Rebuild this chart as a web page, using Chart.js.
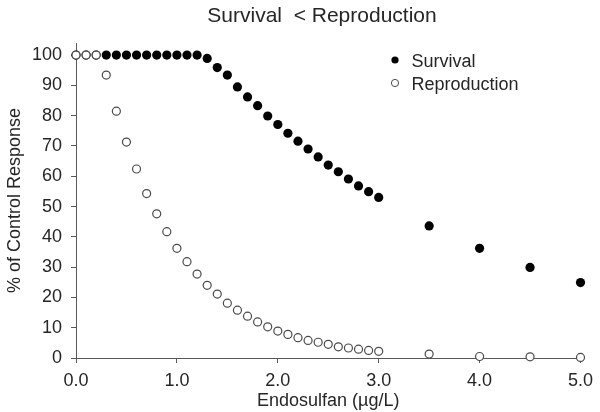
<!DOCTYPE html>
<html>
<head>
<meta charset="utf-8">
<script src="https://cdn.jsdelivr.net/npm/chart.js@4.4.1/dist/chart.umd.min.js"></script>
<style>
  html, body { margin: 0; padding: 0; background: #fff; }
  #wrap { width: 600px; height: 412px; }
</style>
</head>
<body>
<div id="wrap"><canvas id="chartDose"></canvas></div>
<script>
// endosulfan concentration (ug/L)
const concentration = [0.0, 0.1, 0.2, 0.3, 0.4, 0.5, 0.6, 0.7, 0.8, 0.9, 1.0,
  1.1, 1.2, 1.3, 1.4, 1.5, 1.6, 1.7, 1.8, 1.9, 2.0,
  2.1, 2.2, 2.3, 2.4, 2.5, 2.6, 2.7, 2.8, 2.9, 3.0,
  3.5, 4.0, 4.5, 5.0];

// % of control response
const survival = [100, 100, 100, 100, 100, 100, 100, 100, 100, 100, 100,
  100, 100, 98.9, 95.9, 93.4, 89.5, 86.2, 83.3, 79.9, 77.1,
  74.2, 71.6, 69.0, 66.4, 63.7, 61.5, 59.1, 56.8, 54.9, 53.0,
  43.6, 36.2, 29.9, 24.9];

const reproduction = [100, 100, 100, 93.4, 81.5, 71.3, 62.4, 54.3, 47.6, 41.7, 36.2,
  31.8, 27.7, 24.0, 21.1, 18.1, 15.8, 13.8, 11.9, 10.3, 8.9,
  7.8, 6.7, 5.8, 5.2, 4.5, 3.7, 3.3, 2.9, 2.5, 2.2,
  1.3, 0.5, 0.4, 0.2];

const xTicks = [0, 1, 2, 3, 4, 5];
const chartTitle = "Survival  < Reproduction";
const xTitle = "Endosulfan (\u00b5g/L)";
const yTitle = "% of Control Response";

const font = "'Liberation Sans', Arial, sans-serif";
const axisColor = "#595959";
const textColor = "#262626";

function toPoints(ys) {
  return concentration.map((x, i) => ({ x: x, y: ys[i] }));
}

// title and legend drawn by hand so they sit where the original has them
const annotate = {
  id: "annotate",
  afterDraw(chart) {
    const ctx = chart.ctx;
    ctx.save();
    ctx.fillStyle = textColor;
    ctx.font = "21px " + font;
    ctx.textAlign = "center";
    ctx.textBaseline = "middle";
    ctx.fillText(chartTitle, 322, 16);

    ctx.font = "18px " + font;
    ctx.textAlign = "left";
    ctx.textBaseline = "alphabetic";
    chart.data.datasets.forEach((ds, i) => {
      const y = [60, 83][ds.legendRow];
      ctx.beginPath();
      ctx.arc(395, y, 3.6, 0, Math.PI * 2);
      ctx.fillStyle = ds.backgroundColor;
      ctx.fill();
      if (ds.borderWidth) {
        ctx.lineWidth = 1;
        ctx.strokeStyle = ds.borderColor;
        ctx.stroke();
      }
      ctx.fillStyle = textColor;
      ctx.fillText(ds.label, 411.5, y + 6.6);
    });
    ctx.restore();
  }
};

const config = {
  type: "scatter",
  data: {
    datasets: [
      {
        label: "Survival",
        legendRow: 0,
        order: 1,
        data: toPoints(survival),
        backgroundColor: "#000000",
        borderColor: "#000000",
        borderWidth: 0,
        pointRadius: 4.6,
        pointHoverRadius: 4.6,
        clip: false,
      },
      {
        label: "Reproduction",
        legendRow: 1,
        order: 0,
        data: toPoints(reproduction),
        backgroundColor: "#ffffff",
        borderColor: "#4a4a4a",
        borderWidth: 1.2,
        pointRadius: 4,
        pointHoverRadius: 4,
        clip: false,
      },
    ],
  },
  options: {
    responsive: true,
    maintainAspectRatio: false,
    animation: false,
    layout: { padding: { top: 43, right: 17, left: 0, bottom: 0 } },
    plugins: {
      legend: { display: false },
      title: { display: false },
      tooltip: { enabled: false },
    },
    scales: {
      x: {
        type: "linear",
        min: 0,
        max: 5,
        afterFit(scale) { scale.height = 54; },
        afterBuildTicks(scale) { scale.ticks = xTicks.map(v => ({ value: v })); },
        border: { display: true, color: axisColor, width: 1 },
        grid: { display: true, drawOnChartArea: false, drawTicks: true, tickLength: 5, color: axisColor },
        ticks: {
          color: textColor,
          font: { family: font, size: 18 },
          padding: 7,
          maxRotation: 0,
          callback: v => v.toFixed(1),
        },
        title: {
          display: true,
          text: xTitle,
          color: textColor,
          font: { family: font, size: 18 },
          padding: { top: 0, bottom: 0 },
        },
      },
      y: {
        min: 0,
        max: 104,
        afterFit(scale) { scale.width = 76; },
        border: { display: true, color: axisColor, width: 1 },
        grid: { display: true, drawOnChartArea: false, drawTicks: true, tickLength: 5, color: axisColor },
        ticks: {
          stepSize: 10,
          includeBounds: false,
          color: textColor,
          font: { family: font, size: 18 },
          padding: 9,
        },
        title: {
          display: true,
          text: yTitle,
          color: textColor,
          font: { family: font, size: 18 },
          padding: { top: 4, bottom: 4 },
        },
      },
    },
  },
  plugins: [annotate],
};

var chartDose = new Chart(document.getElementById("chartDose"), config);
</script>
</body>
</html>
